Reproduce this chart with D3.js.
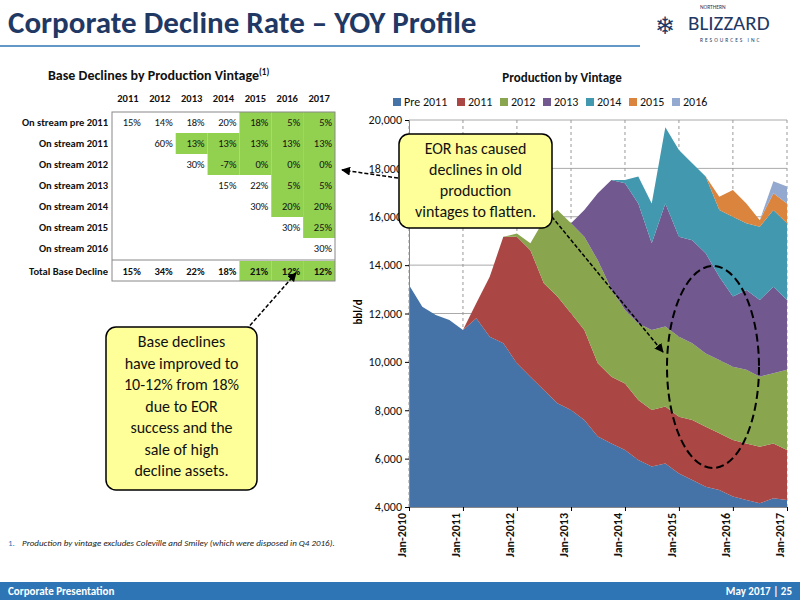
<!DOCTYPE html><html><head><meta charset="utf-8"><script src="https://cdn.jsdelivr.net/npm/d3@7"></script>
<style>body{margin:0;background:#fff}text{font-family:Calibri,Carlito,"Open Sans",sans-serif}</style></head><body>
<svg id="s" width="800" height="600"></svg>
<script>
const quarters = d3.range(29).map(i => new Date(2010 + Math.floor(i/4), (i%4)*3, 1));
const seriesNames = ["Pre 2011","2011","2012","2013","2014","2015","2016"];
const colors = ["#4572A7","#AA4643","#89A54E","#71588F","#4198AF","#DB843D","#93A9CF"];
const pre2011 = [13180,12280,11940,11730,11320,11800,11040,10770,9940,9390,8840,8290,8010,7600,6910,6630,6360,5940,5670,5800,5390,5120,4840,4700,4430,4290,4150,4360,4290];
const v2011 = [0,0,0,0,0,620,2480,4400,5230,5230,4410,4410,4000,3720,3030,2760,2750,2480,2340,2350,2340,2480,2480,2350,2340,2340,2340,2270,2070];
const v2012 = [0,0,0,0,0,0,0,0,140,280,2610,3580,3720,3850,4260,3610,3030,3170,3310,3310,3310,3170,3030,3030,3030,3040,2900,2900,3310];
const v2013 = [0,0,0,0,0,0,0,0,0,0,0,0,0,1110,2770,4520,5240,4960,3580,5090,4130,4260,4140,3440,2900,3300,3170,3580,2890];
const v2014 = [0,0,0,0,0,0,0,0,0,0,0,0,0,0,0,0,140,1110,1650,3150,3590,3180,3170,2760,3300,2760,3030,3170,3170];
const v2015 = [0,0,0,0,0,0,0,0,0,0,0,0,0,0,0,0,0,0,0,0,0,0,0,550,1110,820,270,690,820];
const v2016 = [0,0,0,0,0,0,0,0,0,0,0,0,0,0,0,0,0,0,0,0,0,0,0,0,0,0,0,500,700];
const yTicks = [4000,6000,8000,10000,12000,14000,16000,18000,20000];
const tableYears = ["2011","2012","2013","2014","2015","2016","2017"];
const tableRows = ["On stream pre 2011","On stream 2011","On stream 2012","On stream 2013","On stream 2014","On stream 2015","On stream 2016"];
const tableVals = [
 ["15%","14%","18%","20%","18%","5%","5%"],
 ["","60%","13%","13%","13%","13%","13%"],
 ["","","30%","-7%","0%","0%","0%"],
 ["","","","15%","22%","5%","5%"],
 ["","","","","30%","20%","20%"],
 ["","","","","","30%","25%"],
 ["","","","","","","30%"]];
const tableGreen = [[0,0,0,0,1,1,1],[0,0,1,1,1,1,1],[0,0,0,1,1,1,1],[0,0,0,0,0,1,1],[0,0,0,0,0,1,1],[0,0,0,0,0,0,1],[0,0,0,0,0,0,0]];
const totals = ["15%","34%","22%","18%","21%","12%","12%"];
const totalGreen = [0,0,0,0,1,1,1];

const svg = d3.select("#s");
const navy="#1F3864";
svg.append("text").attr("x",8).attr("y",33).attr("font-size",31).attr("font-weight","bold").attr("fill",navy).text("Corporate Decline Rate – YOY Profile");
svg.append("line").attr("x1",0).attr("x2",640).attr("y1",46).attr("y2",46).attr("stroke","#2E75B6").attr("stroke-width",1.5);
// logo
svg.append("text").attr("x",700).attr("y",9).attr("font-size",5.5).attr("fill",navy).text("NORTHERN");
svg.append("text").attr("x",688).attr("y",30).attr("font-size",21).attr("fill",navy).attr("font-family","Liberation Serif").text("BLIZZARD");
svg.append("text").attr("x",700).attr("y",42).attr("font-size",5.5).attr("fill",navy).attr("letter-spacing",2).text("RESOURCES INC");
svg.append("text").attr("x",655).attr("y",34).attr("font-size",24).attr("fill",navy).text("❄");
// footer
svg.append("rect").attr("x",0).attr("y",582).attr("width",800).attr("height",18).attr("fill","#2E75B6");
svg.append("text").attr("x",8).attr("y",595).attr("font-size",11).attr("font-weight","bold").attr("fill","#fff").text("Corporate Presentation");
svg.append("text").attr("x",792).attr("y",595).attr("text-anchor","end").attr("font-size",11).attr("font-weight","bold").attr("fill","#fff").text("May 2017 | 25");
svg.append("text").attr("x",22).attr("y",546).attr("font-size",9).attr("font-style","italic").attr("fill","#222").text("Production by vintage excludes Coleville and Smiley (which were disposed in Q4 2016).");
svg.append("text").attr("x",8).attr("y",546).attr("font-size",9).attr("fill","#2E75B6").text("1.");

// table
svg.append("text").attr("x",48).attr("y",80).attr("font-size",14).attr("font-weight","bold").attr("fill","#111").text("Base Declines by Production Vintage").append("tspan").attr("font-size",9).attr("dy",-5).text("(1)");
const cx = d3.scaleBand().domain(tableYears).range([112,335]);
const ry = d3.scaleBand().domain(tableRows).range([112,259]);
const tg = svg.append("g").attr("font-size",10.5).attr("font-weight","bold").attr("fill","#111");
tableYears.forEach(y=>tg.append("text").attr("x",cx(y)+cx.bandwidth()/2).attr("y",102).attr("text-anchor","middle").text(y));
tableRows.forEach((r,i)=>{
  tg.append("text").attr("x",108).attr("y",ry(r)+14).attr("text-anchor","end").text(r);
  tableYears.forEach((y,j)=>{
    if(tableGreen[i][j]) tg.append("rect").attr("x",cx(y)).attr("y",ry(r)).attr("width",cx.bandwidth()).attr("height",ry.bandwidth()).attr("fill","#92D050");
    tg.append("text").attr("x",cx(y)+cx.bandwidth()-3).attr("y",ry(r)+14).attr("text-anchor","end").attr("font-weight","normal").text(tableVals[i][j]);
  });
});
tg.append("text").attr("x",108).attr("y",275).attr("text-anchor","end").text("Total Base Decline");
tableYears.forEach((y,j)=>{
  if(totalGreen[j]) tg.append("rect").attr("x",cx(y)).attr("y",261).attr("width",cx.bandwidth()).attr("height",20).attr("fill","#92D050");
  tg.append("text").attr("x",cx(y)+cx.bandwidth()-3).attr("y",275).attr("text-anchor","end").text(totals[j]);
});
svg.append("rect").attr("x",112).attr("y",112).attr("width",223).attr("height",169).attr("fill","none").attr("stroke","#888");
svg.append("line").attr("x1",112).attr("x2",335).attr("y1",260).attr("y2",260).attr("stroke","#888");

// chart
const x = d3.scaleTime().domain([new Date(2010,0,1),new Date(2017,0,1)]).range([409,787]);
const y = d3.scaleLinear().domain([4000,20000]).range([507,120]);
svg.append("text").attr("x",562).attr("y",82).attr("text-anchor","middle").attr("font-size",13).attr("font-weight","bold").attr("fill","#111").text("Production by Vintage");
const lg = svg.append("g").attr("font-size",12).attr("fill","#111");
const lx=[393,457,500,543,586,629,672];
seriesNames.forEach((n,i)=>{lg.append("rect").attr("x",lx[i]).attr("y",98).attr("width",8).attr("height",8).attr("fill",colors[i]);lg.append("text").attr("x",lx[i]+11).attr("y",106).text(n);});
svg.append("g").selectAll("line").data(yTicks).join("line").attr("x1",409).attr("x2",787).attr("y1",d=>y(d)).attr("y2",d=>y(d)).attr("stroke","#aaa");
const yrs = d3.range(2010,2018).map(k=>new Date(k,0,1));
svg.append("g").selectAll("line").data(yrs).join("line").attr("x1",d=>x(d)).attr("x2",d=>x(d)).attr("y1",120).attr("y2",507).attr("stroke","#999").attr("stroke-dasharray","3,3");
const rows = quarters.map((d,i)=>({d,"Pre 2011":pre2011[i],"2011":v2011[i],"2012":v2012[i],"2013":v2013[i],"2014":v2014[i],"2015":v2015[i],"2016":v2016[i]}));
const stack = d3.stack().keys(seriesNames)(rows);
svg.append("clipPath").attr("id","c").append("rect").attr("x",409).attr("y",120).attr("width",378).attr("height",387);
const area = d3.area().x(d=>x(d.data.d)).y0(d=>y(d[0])).y1(d=>y(d[1]));
svg.append("g").attr("clip-path","url(#c)").selectAll("path").data(stack).join("path").attr("d",area).attr("fill",(d,i)=>colors[i]);
svg.append("g").attr("transform","translate(409,0)").call(d3.axisLeft(y).tickValues(yTicks).tickFormat(d3.format(",")).tickSize(4)).call(g=>g.selectAll("text").attr("font-size",12).attr("fill","#111")).call(g=>g.select(".domain").attr("stroke","#888"));
svg.append("g").attr("transform","translate(0,507)").call(d3.axisBottom(x).tickValues(yrs).tickFormat(d3.timeFormat("Jan-%Y")).tickSize(4)).call(g=>g.selectAll("text").attr("font-size",12).attr("font-weight","bold").attr("fill","#111").attr("transform","rotate(-90)").attr("text-anchor","end").attr("dx","-6").attr("dy","-0.3em").attr("x",0).attr("y",0)).call(g=>g.select(".domain").attr("stroke","#888"));
svg.append("text").attr("transform","translate(362,312) rotate(-90)").attr("text-anchor","middle").attr("font-size",11).attr("font-weight","bold").text("bbl/d");

// annotations
svg.append("defs").append("marker").attr("id","ah").attr("viewBox","0 0 10 10").attr("refX",9).attr("refY",5).attr("markerWidth",6).attr("markerHeight",6).attr("orient","auto").append("path").attr("d","M0,0L10,5L0,10z");
const dash = (x1,y1,x2,y2)=>svg.append("line").attr("x1",x1).attr("y1",y1).attr("x2",x2).attr("y2",y2).attr("stroke","#000").attr("stroke-width",1.5).attr("stroke-dasharray","4,2").attr("marker-end","url(#ah)");
dash(548,212,663,352); dash(398,178,342,170); dash(246,330,296,273);
svg.append("ellipse").attr("cx",713).attr("cy",367).attr("rx",46).attr("ry",101).attr("fill","none").attr("stroke","#000").attr("stroke-width",2).attr("stroke-dasharray","8,4");
function box(x0,y0,w,h,lines,lh){svg.append("rect").attr("x",x0).attr("y",y0).attr("width",w).attr("height",h).attr("rx",10).attr("fill","#FFFF99").attr("stroke","#000").attr("stroke-width",1.5);
 const t=svg.append("text").attr("text-anchor","middle").attr("font-size",16).attr("fill","#111");
 lines.forEach((l,i)=>t.append("tspan").attr("x",x0+w/2).attr("y",y0+20+i*lh).text(l));}
box(399,134,153,94,["EOR has caused","declines in old","production","vintages to flatten."],21);
box(106,327,151,163,["Base declines","have improved to","10-12% from 18%","due to EOR","success and the","sale of high","decline assets."],21.5);
</script></body></html>
